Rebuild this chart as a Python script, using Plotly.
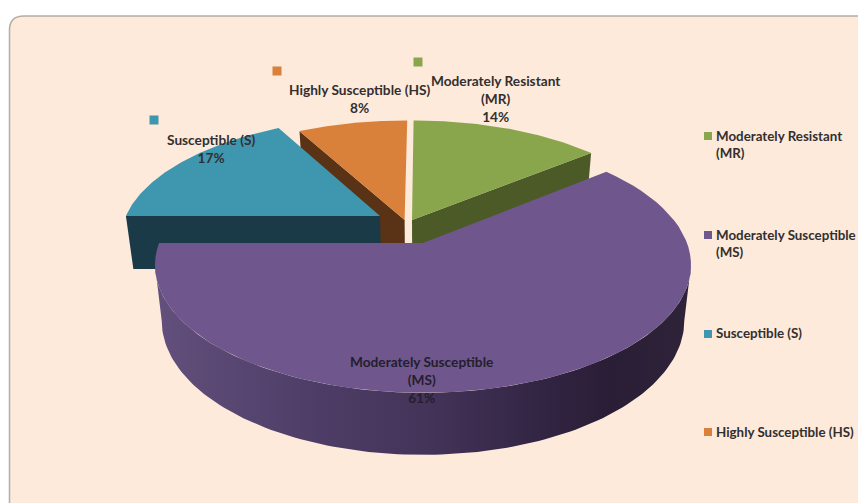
import numpy as np
import plotly.graph_objects as go

# ---- data ----
categories = ["Moderately Resistant (MR)", "Moderately Susceptible (MS)", "Susceptible (S)", "Highly Susceptible (HS)"]
label_lines = ["Moderately Resistant<br>(MR)", "Moderately Susceptible<br>(MS)", "Susceptible (S)", "Highly Susceptible (HS)"]
legend_lines = ["Moderately Resistant<br>(MR)", "Moderately Susceptible<br>(MS)", "Susceptible (S)", "Highly Susceptible (HS)"]
percent = [14, 61, 17, 8]

# ---- style ----
top_colors = ["#8AA64C", "#6F568C", "#3F97AF", "#D9813A"]
wall_colors = ["#4B5A27", "#463558", "#1A3A47", "#5A3216"]
explode_u = [-0.043, 0.0, -0.169, -0.072]
explode_v = [0.1915, 0.0, 0.226, 0.1915]
label_xy = [(496, 98.5), (421, 379.5), (211, 148.5), (359, 98.5)]
key_x = [418, 154, 277]
key_y = [62, 120, 71]
key_colors = [top_colors[0], top_colors[2], top_colors[3]]
legend_y = [136, 235, 334, 432]
legend_text_y = [144.5, 243.5, 332.5, 431.5]
FONT = "Lato"
FONT_SIZE = 13.7
LEGEND_SIZE = 13.35
TXT = "#332F2F"

# perspective projection of the tilted disc
X0, Y0, A, B, K = 423.0, 243.0, 264.0, 124.0, 0.172
DEPTH, K2, SHRINK = 54.5, 0.1216, 0.975


def top(u, v):
    w = 1 + K * v
    return X0 + A * u / w, Y0 - B * v / w


def bottom(u, v):
    x, y = top(u, v)
    return X0 + (x - X0) * SHRINK, y + DEPTH / (1 + K2 * v)


shares = np.array(percent) / sum(percent)
ends = np.cumsum(shares) * 2 * np.pi
starts = ends - shares * 2 * np.pi

fig = go.Figure()


def poly(xs, ys, color, **kw):
    fig.add_trace(go.Scatter(x=list(xs), y=list(ys), mode="lines", fill="toself", fillcolor=color,
                             line=dict(width=0, color=color), hoverinfo="skip", showlegend=False, **kw))


def rim(i, n=70):
    th = np.linspace(starts[i], ends[i], n)
    return np.sin(th) + explode_u[i], np.cos(th) + explode_v[i]


def radial_wall(i, angle, color):
    u = np.array([explode_u[i], np.sin(angle) + explode_u[i]])
    v = np.array([explode_v[i], np.cos(angle) + explode_v[i]])
    tx, ty = top(u, v)
    bx, by = bottom(u, v)
    poly(np.r_[tx, bx[::-1]], np.r_[ty, by[::-1]], color)


def top_face(i):
    u, v = rim(i)
    u = np.r_[explode_u[i], u]
    v = np.r_[explode_v[i], v]
    x, y = top(u, v)
    poly(x, y, top_colors[i])


# draw back to front: HS, S, MR, MS
radial_wall(3, starts[3], wall_colors[3])
top_face(3)
radial_wall(2, starts[2], wall_colors[2])
top_face(2)
radial_wall(0, ends[0], wall_colors[0])
top_face(0)

# MS outer wall with its horizontal shading, between the two silhouette angles
sil = np.arccos(-K)
th = np.linspace(sil, 2 * np.pi - sil, 120)
u, v = np.sin(th), np.cos(th)
tx, ty = top(u, v)
bx, by = bottom(u, v)
fig.add_trace(go.Scatter(
    x=list(np.r_[tx, bx[::-1]]), y=list(np.r_[ty, by[::-1]]), mode="lines", fill="toself",
    line=dict(width=0), hoverinfo="skip", showlegend=False,
    fillgradient=dict(type="horizontal", start=155, stop=691,
                      colorscale=[[0, "#63507C"], [0.25, "#50406A"], [0.5, "#44345A"],
                                  [0.75, "#2F2340"], [0.85, "#2A1E36"], [1, "#2E2339"]])))
top_face(1)

# key squares beside the labels and in the legend
fig.add_trace(go.Scatter(x=key_x, y=key_y, mode="markers", hoverinfo="skip", showlegend=False,
                         marker=dict(symbol="square", size=9, color=key_colors)))
fig.add_trace(go.Scatter(x=[708] * 4, y=legend_y, mode="markers", hoverinfo="skip", showlegend=False,
                         marker=dict(symbol="square", size=8, color=top_colors)))

for i in range(4):
    fig.add_annotation(x=label_xy[i][0], y=label_xy[i][1], text=f"{label_lines[i]}<br>{percent[i]}%",
                       showarrow=False, align="center", xanchor="center", yanchor="middle",
                       font=dict(family=FONT, size=FONT_SIZE, color="#241E2E" if i == 1 else TXT, weight="bold"))
    fig.add_annotation(x=714, y=legend_text_y[i], text=legend_lines[i], showarrow=False, align="left",
                       xanchor="left", yanchor="middle",
                       font=dict(family=FONT, size=LEGEND_SIZE, color=TXT, weight="bold"))

fig.update_layout(
    width=858, height=503, margin=dict(l=0, r=0, t=0, b=0), paper_bgcolor="white", plot_bgcolor="white",
    xaxis=dict(range=[0, 858], visible=False, fixedrange=True),
    yaxis=dict(range=[503, 0], visible=False, fixedrange=True),
    showlegend=False,
    shapes=[dict(type="path", layer="below",
                 path="M 9.5 520 L 9.5 30 Q 9.5 16 24 16 L 870 16 L 870 520 Z",
                 fillcolor="#FDEADB", line=dict(color="#B5ADA6", width=1.5))],
)
fig.write_html("out.html", config={"displayModeBar": False}, post_script="document.body.style.margin='0';")
